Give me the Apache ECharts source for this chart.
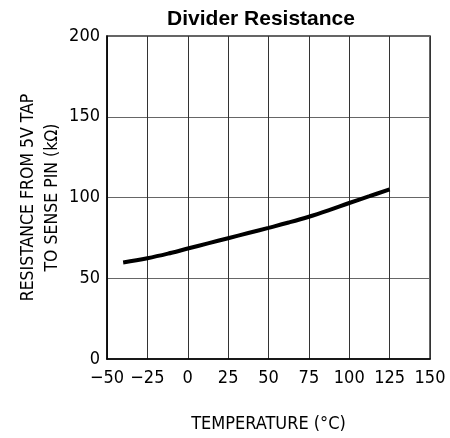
<!DOCTYPE html>
<html>
<head>
<meta charset="utf-8">
<script src="https://cdn.jsdelivr.net/npm/echarts@6/dist/echarts.min.js"></script>
<style>
html,body{margin:0;padding:0;background:#fff;}
#chart{width:450px;height:438px;}
</style>
</head>
<body>
<div id="chart"></div>
<script>
var temperature = [-40, -25, -10, 0, 12.5, 25, 37.5, 50, 62.5, 75, 87.5, 100, 112.5, 125];
var resistance  = [59.8, 62.4, 65.8, 68.4, 71.6, 74.8, 78.0, 81.2, 84.5, 88.1, 92.2, 96.6, 100.8, 105.0];
var xTicks = [-50, -25, 0, 25, 50, 75, 100, 125, 150];
var yTicks = [0, 50, 100, 150, 200];

var labelFont = '"DejaVu Sans Condensed", "Liberation Sans Narrow", "DejaVu Sans", sans-serif';
var chart = echarts.init(document.getElementById('chart'), null, {renderer: 'canvas'});
chart.setOption({
  animation: false,
  backgroundColor: '#fff',
  title: {
    text: 'Divider Resistance',
    left: 256, top: 4,
    textAlign: 'center',
    textStyle: {fontFamily: '"Liberation Sans", Arial, sans-serif', fontWeight: 'bold', fontSize: 21, color: '#000'}
  },
  grid: {left: 107, right: 20, top: 36, bottom: 79, show: true, borderColor: '#333', borderWidth: 1.5, backgroundColor: 'transparent'},
  xAxis: {
    type: 'value', min: xTicks[0], max: xTicks[xTicks.length - 1], interval: 25,
    name: 'TEMPERATURE (°C)', nameLocation: 'middle', nameGap: 56, nameMoveOverlap: false,
    nameTextStyle: {fontFamily: labelFont, fontSize: 18, color: '#000', verticalAlign: 'top'},
    axisLine: {show: true, onZero: false, lineStyle: {color: '#000', width: 1.5}},
    axisTick: {show: false},
    axisLabel: {margin: 10, fontFamily: labelFont, fontSize: 18, color: '#000',
      formatter: function (v) { return String(v).replace('-', '\u2212'); }},
    splitLine: {show: true, lineStyle: {color: '#333', width: 1}}
  },
  yAxis: {
    type: 'value', min: yTicks[0], max: yTicks[yTicks.length - 1], interval: 50,
    name: 'RESISTANCE FROM 5V TAP\nTO SENSE PIN (k\u03A9)', nameLocation: 'middle', nameGap: 43, nameRotate: 90, nameMoveOverlap: false,
    nameTextStyle: {fontFamily: labelFont, fontSize: 17.5, color: '#000', lineHeight: 24},
    axisLine: {show: true, onZero: false, lineStyle: {color: '#000', width: 1.5}},
    axisTick: {show: false},
    axisLabel: {margin: 7, fontFamily: labelFont, fontSize: 18, color: '#000'},
    splitLine: {show: true, lineStyle: {color: '#666', width: 1}}
  },
  series: [{
    type: 'line',
    data: temperature.map(function (t, i) { return [t, resistance[i]]; }),
    smooth: 0.4,
    showSymbol: false,
    lineStyle: {color: '#000', width: 4, cap: 'butt'}
  }]
});
</script>
</body>
</html>
